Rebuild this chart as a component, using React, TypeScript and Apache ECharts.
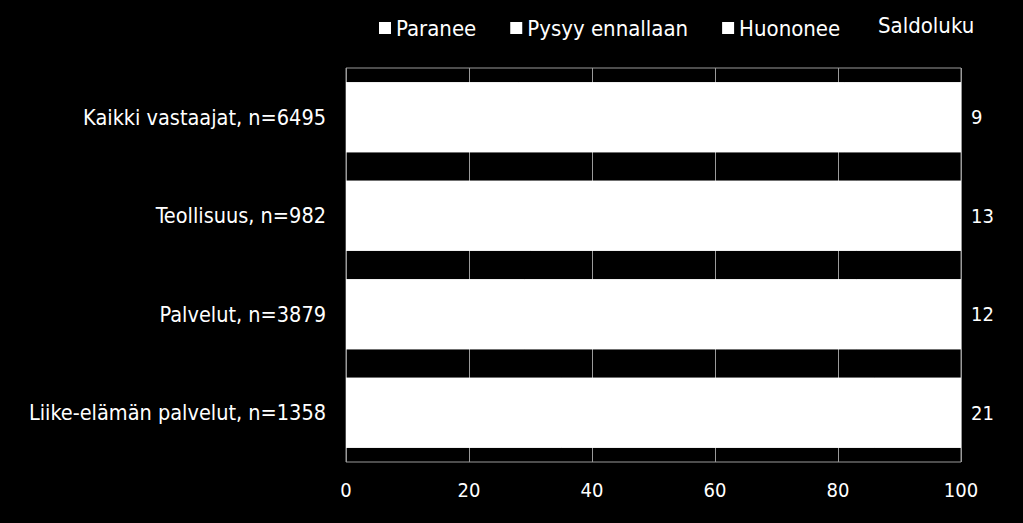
import { useRef, useEffect } from "react"
import * as echarts from "echarts"

const categories = [
  "Kaikki vastaajat, n=6495",
  "Teollisuus, n=982",
  "Palvelut, n=3879",
  "Liike-elämän palvelut, n=1358",
]
const paranee = [28, 30, 29, 35]
const pysyy = [53, 53, 54, 51]
const huononee = [19, 17, 17, 14]
const saldoluku = [9, 13, 12, 21]
const xTicks = [0, 20, 40, 60, 80, 100]

const FONT = "'DejaVu Sans Condensed', 'DejaVu Sans', sans-serif"

export default function App() {
  const chartRef = useRef<HTMLDivElement>(null)

  useEffect(() => {
    if (!chartRef.current) return
    const instance = echarts.init(chartRef.current, null, { renderer: "svg" })

    const seriesNames = ["Paranee", "Pysyy ennallaan", "Huononee"]
    const seriesData = [paranee, pysyy, huononee]

    instance.setOption({
      animation: false,
      backgroundColor: "#000",
      textStyle: { fontFamily: FONT },
      legend: {
        top: 12,
        left: 374,
        itemWidth: 12,
        itemHeight: 12,
        itemGap: 34,
        icon: "rect",
        textStyle: { color: "#fff", fontSize: 22, fontFamily: FONT },
        data: seriesNames,
      },
      grid: {
        left: 346,
        right: 62,
        top: 68,
        bottom: 61,
        show: true,
        borderColor: "#9a9a9a",
        borderWidth: 1,
        containLabel: false,
      },
      xAxis: {
        type: "value",
        min: xTicks[0],
        max: xTicks[xTicks.length - 1],
        interval: 20,
        axisLine: { show: false },
        axisTick: { show: false },
        splitLine: { show: true, lineStyle: { color: "#9a9a9a", width: 1 } },
        axisLabel: { color: "#fff", fontSize: 20, fontFamily: FONT, margin: 18 },
      },
      yAxis: [
        {
          type: "category",
          inverse: true,
          data: categories,
          axisLine: { show: false },
          axisTick: { show: false },
          axisLabel: { color: "#fff", fontSize: 21.5, fontFamily: FONT, margin: 20 },
        },
        {
          type: "category",
          inverse: true,
          position: "right",
          data: saldoluku.map(String),
          axisLine: { show: false },
          axisTick: { show: false },
          axisLabel: { color: "#fff", fontSize: 20, fontFamily: FONT, margin: 10 },
        },
      ],
      graphic: [
        {
          type: "text",
          left: 878,
          top: 14,
          style: { text: "Saldoluku", fill: "#fff", fontSize: 22, fontFamily: FONT },
        },
      ],
      series: seriesNames.map((name, i) => ({
        name,
        type: "bar",
        stack: "total",
        barWidth: "71%",
        showBackground: i === 0,
        backgroundStyle: { color: "#fff" },
        itemStyle: { color: "#fff" },
        data: seriesData[i],
      })),
    })

    return () => instance.dispose()
  }, [])

  return <div ref={chartRef} style={{ width: 1023, height: 523, position: "absolute", left: 0, top: 0 }} />
}
